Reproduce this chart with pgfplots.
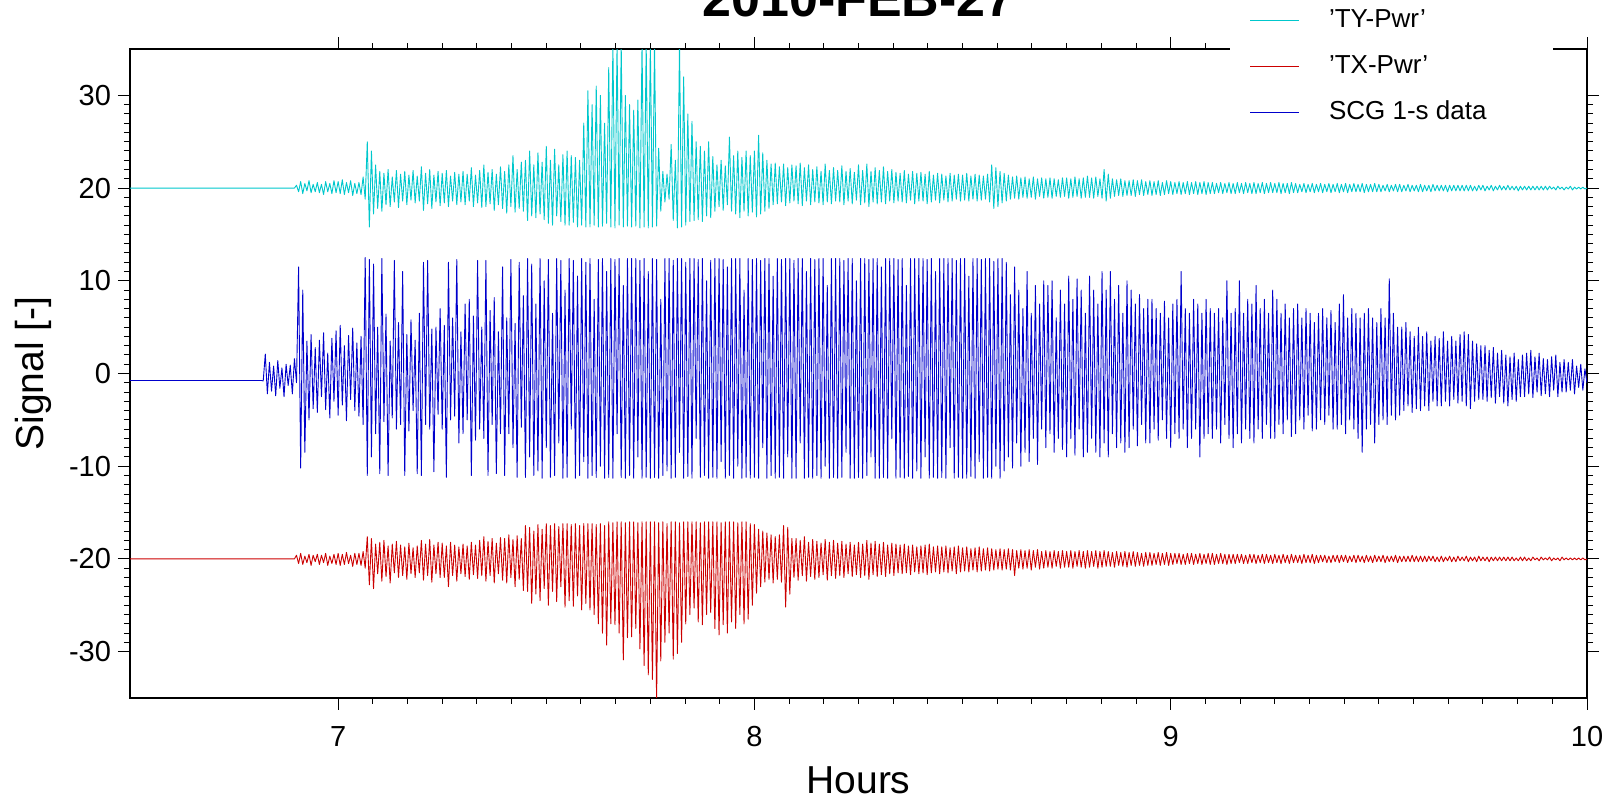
\documentclass[border=0pt]{standalone}
\usepackage{fontspec}
\setmainfont{Liberation Sans}
\usepackage{pgfplots}
\usepackage{pgfplotstable}
\pgfplotsset{compat=1.18}

\definecolor{typwr}{rgb}{0.00,0.78,0.80}
\definecolor{txpwr}{rgb}{0.80,0.00,0.00}
\definecolor{scgblue}{rgb}{0.00,0.00,0.80}

% time in hours, then the three traces (TY power, TX power, SCG 1-s signal)
\pgfplotstableread{
h ty tx scg
6.500 20.0 -20.0 -0.75
6.800 20.0 -20.0 -0.75
6.805 20.0 -20.0 -0.75
6.810 20.0 -20.0 -0.75
6.815 20.0 -20.0 -0.75
6.820 20.0 -20.0 -0.8
6.825 20.0 -20.0 2.1
6.830 20.0 -20.0 -2.2
6.835 20.0 -20.0 1.2
6.840 20.0 -20.0 -1.9
6.845 20.0 -20.0 0.8
6.850 20.0 -20.0 -2.4
6.855 20.0 -20.0 1.4
6.860 20.0 -20.0 -1.6
6.865 20.0 -20.0 0.6
6.870 20.0 -20.0 -2.5
6.875 20.0 -20.0 1.0
6.880 20.0 -20.0 -1.3
6.885 20.0 -20.0 0.9
6.890 20.0 -20.0 -2.2
6.895 20.0 -20.0 1.6
6.900 20.3 -19.6 -1.0
6.905 19.6 -20.5 11.5
6.910 20.7 -19.4 -10.2
6.915 19.4 -20.6 9.0
6.920 20.5 -19.7 -8.5
6.925 19.7 -20.4 3.5
6.930 20.8 -19.5 -5.0
6.935 19.5 -20.7 4.2
6.940 20.4 -19.6 -3.8
6.945 19.6 -20.3 2.8
6.950 20.6 -19.5 -4.2
6.955 19.5 -20.6 3.6
6.960 20.4 -19.6 -2.5
6.965 19.3 -20.4 4.4
6.970 20.7 -19.4 -3.9
6.975 19.6 -20.7 2.2
6.980 20.5 -19.7 -4.8
6.985 19.4 -20.5 3.8
6.990 20.8 -19.5 -3.0
6.995 19.5 -20.6 4.6
7.000 20.7 -19.4 -4.5
7.005 19.4 -20.7 5.2
7.010 20.9 -19.5 -3.4
7.015 19.3 -20.6 3.0
7.020 20.6 -19.3 -5.1
7.025 19.5 -20.5 4.1
7.030 20.8 -19.6 -2.8
7.035 19.2 -20.8 4.9
7.040 20.5 -19.4 -4.0
7.045 19.4 -20.6 3.3
7.050 20.6 -19.4 -4.6
7.055 19.3 -20.7 4.0
7.060 21.2 -19.2 -5.5
7.065 18.8 -21.0 12.5
7.070 25.0 -17.6 -11.0
7.075 15.8 -22.8 12.3
7.080 24.0 -17.8 -9.0
7.085 17.2 -23.2 11.8
7.090 22.5 -18.4 -6.5
7.095 17.8 -21.6 5.0
7.100 21.8 -18.2 -10.8
7.105 17.5 -22.4 12.4
7.110 21.6 -18.0 -5.2
7.115 18.2 -21.9 6.4
7.120 22.0 -18.6 -11.0
7.125 18.0 -22.6 3.5
7.130 21.2 -18.4 -4.8
7.135 18.5 -21.5 12.2
7.140 21.9 -18.1 -6.0
7.145 17.9 -22.0 5.5
7.150 21.5 -18.5 -5.5
7.155 18.6 -21.8 11.0
7.160 21.8 -18.7 -11.0
7.165 18.2 -22.2 4.2
7.170 21.4 -18.3 -6.2
7.175 18.7 -21.6 5.8
7.180 21.9 -18.8 -4.0
7.185 18.4 -22.0 3.6
7.190 21.3 -18.6 -10.8
7.195 18.6 -21.5 6.5
7.200 22.3 -18.0 -11.0
7.205 17.6 -22.3 12.0
7.210 21.6 -18.4 -5.5
7.215 18.3 -21.8 12.2
7.220 22.0 -17.9 -6.0
7.225 17.8 -22.5 4.8
7.230 21.4 -18.5 -10.6
7.235 18.5 -21.6 5.0
7.240 21.8 -18.2 -4.4
7.245 18.1 -22.0 7.0
7.250 21.6 -18.3 -6.0
7.255 18.4 -22.0 5.2
7.260 21.9 -18.6 -11.2
7.265 18.0 -23.0 12.0
7.270 21.3 -18.2 -5.0
7.275 18.6 -21.8 6.0
7.280 21.7 -18.5 -4.6
7.285 18.2 -22.4 12.3
7.290 21.5 -18.7 -7.5
7.295 18.5 -21.6 4.5
7.300 21.8 -18.4 -6.5
7.305 18.2 -21.9 7.5
7.310 21.5 -18.6 -5.0
7.315 18.6 -22.2 8.0
7.320 22.2 -18.2 -11.0
7.325 18.0 -21.7 6.2
7.330 21.4 -18.5 -7.2
7.335 18.4 -22.1 12.2
7.340 21.9 -18.0 -6.0
7.345 17.9 -21.8 5.0
7.350 22.5 -17.6 -7.0
7.355 18.0 -22.4 12.2
7.360 21.7 -18.1 -11.0
7.365 18.3 -21.8 6.8
7.370 22.0 -17.8 -5.5
7.375 17.6 -22.6 8.2
7.380 21.5 -18.3 -10.8
7.385 18.2 -21.6 4.5
7.390 22.3 -17.7 -6.5
7.395 17.8 -22.3 11.5
7.400 21.8 -17.8 -11.0
7.405 17.3 -22.6 6.0
7.410 22.5 -17.4 -6.5
7.415 18.0 -22.0 12.3
7.420 23.5 -17.9 -8.0
7.425 17.4 -23.0 5.4
7.430 22.0 -17.5 -11.2
7.435 17.8 -22.2 12.0
7.440 22.8 -17.8 -5.8
7.445 17.5 -23.4 8.4
7.450 23.0 -16.4 -11.2
7.455 16.5 -23.5 12.4
7.460 24.0 -16.6 -9.0
7.465 17.0 -24.8 11.8
7.470 22.5 -17.0 -11.0
7.475 16.8 -23.8 7.5
7.480 23.8 -16.3 -10.5
7.485 17.2 -24.5 12.4
7.490 22.8 -16.8 -11.3
7.495 16.6 -23.2 10.0
7.500 24.5 -16.2 -8.0
7.505 16.2 -25.0 12.3
7.510 23.0 -16.4 -11.2
7.515 16.0 -23.5 6.5
7.520 24.2 -16.2 -11.0
7.525 17.0 -24.6 12.4
7.530 22.5 -16.5 -7.5
7.535 16.4 -23.0 12.2
7.540 23.6 -16.2 -11.3
7.545 16.0 -25.2 9.0
7.550 24.0 -16.2 -11.2
7.555 16.0 -24.5 12.4
7.560 23.5 -16.3 -6.0
7.565 16.3 -25.1 12.2
7.570 23.3 -16.2 -11.3
7.575 15.8 -24.0 10.5
7.580 23.0 -16.4 -11.0
7.585 16.0 -25.5 12.4
7.590 27.0 -16.2 -9.5
7.595 15.8 -24.8 12.0
7.600 30.5 -16.2 -11.3
7.605 15.8 -25.5 12.4
7.610 29.0 -16.2 -11.0
7.615 16.0 -26.0 8.0
7.620 31.0 -16.3 -11.2
7.625 15.8 -27.0 12.3
7.630 30.0 -16.2 -10.0
7.635 15.9 -28.0 12.4
7.640 27.0 -16.4 -11.3
7.645 16.2 -29.3 11.0
7.650 33.0 -16.0 -11.2
7.655 15.8 -27.0 12.4
7.660 35.5 -16.1 -11.3
7.665 15.7 -27.1 12.3
7.670 35.5 -16.0 -6.5
7.675 16.0 -28.0 12.4
7.680 35.5 -16.0 -11.2
7.685 15.8 -30.9 9.5
7.690 30.0 -16.1 -11.3
7.695 15.9 -28.5 12.4
7.700 29.0 -16.0 -11.0
7.705 15.8 -28.4 12.4
7.710 28.4 -16.0 -11.3
7.715 15.9 -27.5 12.4
7.720 29.5 -16.1 -9.0
7.725 15.7 -29.7 12.2
7.730 35.5 -16.0 -11.3
7.735 15.8 -31.5 12.4
7.740 35.5 -16.0 -11.2
7.745 15.7 -32.5 11.0
7.750 35.5 -16.0 -11.3
7.755 15.8 -33.0 12.4
7.760 35.5 -16.0 -11.2
7.765 15.9 -35.3 12.3
7.770 24.3 -16.1 -11.3
7.775 17.5 -31.0 8.0
7.780 21.8 -16.0 -11.0
7.785 18.5 -29.0 12.4
7.790 21.5 -16.2 -10.5
7.795 18.8 -28.0 12.4
7.800 24.7 -16.0 -11.3
7.805 16.5 -30.8 12.2
7.810 23.0 -16.0 -11.2
7.815 15.7 -30.2 12.4
7.820 35.5 -16.1 -8.5
7.825 15.8 -29.0 12.4
7.830 32.0 -16.0 -11.3
7.835 16.0 -27.0 12.0
7.840 28.0 -16.0 -11.1
7.845 16.4 -26.0 12.4
7.850 27.2 -16.0 -11.3
7.855 16.5 -25.3 12.4
7.860 25.0 -16.0 -7.0
7.865 16.6 -26.8 12.3
7.870 24.5 -16.1 -11.2
7.875 16.4 -27.1 12.4
7.880 24.0 -16.0 -11.0
7.885 17.0 -26.0 10.0
7.890 25.0 -16.0 -11.3
7.895 16.8 -25.8 12.2
7.900 23.4 -16.0 -11.2
7.905 17.5 -27.5 12.4
7.910 22.5 -16.0 -11.3
7.915 18.0 -28.2 12.4
7.920 23.0 -16.1 -9.5
7.925 17.6 -27.1 12.3
7.930 22.4 -16.0 -11.3
7.935 18.2 -28.0 11.5
7.940 25.5 -16.0 -11.0
7.945 17.5 -26.8 12.4
7.950 23.5 -16.0 -11.3
7.955 17.2 -27.5 12.4
7.960 24.0 -16.1 -10.0
7.965 16.8 -26.0 12.4
7.970 23.3 -16.0 -11.3
7.975 17.5 -27.0 9.0
7.980 24.0 -16.0 -11.2
7.985 17.0 -26.5 12.4
7.990 23.5 -16.2 -11.3
7.995 17.4 -25.0 12.3
8.000 24.0 -16.3 -11.2
8.005 16.9 -23.7 12.4
8.010 25.7 -16.8 -11.3
8.015 17.2 -23.0 12.2
8.020 23.8 -17.0 -8.0
8.025 17.5 -22.5 12.4
8.030 23.0 -17.2 -11.3
8.035 17.8 -22.2 12.4
8.040 22.6 -17.4 -11.0
8.045 18.2 -22.6 10.5
8.050 22.7 -17.6 -11.3
8.055 18.3 -22.2 12.4
8.060 22.3 -17.4 -11.2
8.065 18.5 -22.5 12.3
8.070 22.6 -16.4 -11.3
8.075 18.1 -25.2 12.4
8.080 22.2 -16.6 -9.0
8.085 18.4 -23.8 12.4
8.090 22.5 -17.8 -11.3
8.095 18.6 -22.0 12.2
8.100 22.4 -17.8 -11.3
8.105 18.3 -22.3 12.4
8.110 22.7 -18.0 -7.5
8.115 18.1 -21.8 12.4
8.120 22.2 -17.6 -11.3
8.125 18.6 -22.4 11.0
8.130 22.5 -18.2 -11.2
8.135 18.2 -21.9 12.4
8.140 22.0 -17.9 -11.3
8.145 18.5 -22.2 12.3
8.150 22.3 -18.1 -11.0
8.155 18.4 -22.0 12.4
8.160 21.8 -18.3 -11.3
8.165 18.2 -21.7 12.4
8.170 22.6 -17.9 -10.0
8.175 18.5 -22.3 9.5
8.180 21.9 -18.2 -11.3
8.185 18.3 -21.8 12.4
8.190 22.2 -18.0 -11.2
8.195 18.6 -22.1 12.4
8.200 21.9 -18.3 -11.3
8.205 18.5 -21.8 12.4
8.210 22.4 -18.1 -11.2
8.215 18.2 -22.0 12.2
8.220 21.8 -18.4 -8.5
8.225 18.6 -21.6 12.4
8.230 22.1 -18.2 -11.3
8.235 18.3 -21.9 12.4
8.240 21.7 -18.5 -11.3
8.245 18.7 -21.7 10.0
8.250 22.5 -18.2 -11.2
8.255 18.2 -22.0 12.4
8.260 21.9 -18.4 -11.3
8.265 18.4 -21.8 12.4
8.270 22.6 -18.0 -11.0
8.275 18.0 -22.2 12.3
8.280 21.8 -18.3 -9.0
8.285 18.5 -21.7 12.4
8.290 22.2 -18.1 -11.3
8.295 18.3 -21.9 12.4
8.300 21.9 -18.4 -11.3
8.305 18.5 -21.7 11.5
8.310 22.3 -18.2 -11.2
8.315 18.3 -21.9 12.4
8.320 21.8 -18.5 -11.3
8.325 18.6 -21.6 12.4
8.330 22.0 -18.3 -7.0
8.335 18.4 -21.8 12.4
8.340 21.7 -18.4 -11.3
8.345 18.6 -21.5 12.3
8.350 21.6 -18.5 -11.2
8.355 18.5 -21.6 12.4
8.360 21.9 -18.4 -11.3
8.365 18.4 -21.5 9.5
8.370 21.5 -18.6 -11.1
8.375 18.7 -21.7 12.4
8.380 21.8 -18.5 -11.3
8.385 18.3 -21.4 12.4
8.390 21.6 -18.7 -10.5
8.395 18.6 -21.6 12.4
8.400 21.7 -18.6 -11.3
8.405 18.6 -21.5 12.4
8.410 21.5 -18.5 -9.0
8.415 18.3 -21.7 12.3
8.420 21.8 -18.4 -11.3
8.425 18.5 -21.5 12.4
8.430 21.4 -18.7 -11.2
8.435 18.7 -21.4 11.0
8.440 21.6 -18.6 -11.3
8.445 18.4 -21.6 12.4
8.450 21.5 -18.7 -11.2
8.455 18.7 -21.4 12.4
8.460 21.3 -18.6 -11.3
8.465 18.5 -21.5 12.4
8.470 21.6 -18.8 -8.0
8.475 18.6 -21.3 12.4
8.480 21.4 -18.7 -11.3
8.485 18.8 -21.6 12.2
8.490 21.5 -18.6 -11.2
8.495 18.6 -21.4 12.4
8.500 21.4 -18.8 -11.3
8.505 18.7 -21.3 12.4
8.510 21.6 -18.7 -11.3
8.515 18.6 -21.4 10.5
8.520 21.3 -18.9 -11.1
8.525 18.8 -21.2 12.4
8.530 21.5 -18.8 -11.3
8.535 18.6 -21.4 12.4
8.540 21.4 -18.7 -9.5
8.545 18.7 -21.3 12.3
8.550 21.3 -18.9 -11.3
8.555 18.8 -21.2 12.4
8.560 21.5 -18.8 -11.2
8.565 18.5 -21.3 12.4
8.570 22.5 -18.9 -11.3
8.575 17.8 -21.2 12.1
8.580 22.2 -19.0 -10.0
8.585 18.0 -21.1 12.4
8.590 21.8 -18.9 -11.3
8.595 18.4 -21.2 12.4
8.600 21.6 -19.0 -10.5
8.605 18.6 -21.1 12.0
8.610 21.4 -18.9 -9.0
8.615 18.8 -21.2 8.5
8.620 21.2 -19.0 -10.2
8.625 18.9 -21.8 11.5
8.630 21.3 -19.1 -7.5
8.635 18.8 -21.0 9.0
8.640 21.1 -19.0 -10.0
8.645 19.0 -21.1 7.0
8.650 21.2 -19.1 -8.5
8.655 18.9 -21.0 11.0
8.660 21.0 -19.0 -9.5
8.665 19.0 -21.2 6.5
8.670 21.2 -19.1 -7.0
8.675 18.8 -20.9 9.5
8.680 21.0 -19.0 -9.8
8.685 19.1 -21.1 7.5
8.690 21.1 -19.2 -6.0
8.695 18.9 -21.0 10.0
8.700 21.0 -19.1 -8.0
8.705 19.0 -20.9 9.5
8.710 21.1 -19.2 -6.5
8.715 18.9 -21.0 10.0
8.720 21.0 -19.1 -8.5
8.725 19.1 -20.8 6.0
8.730 20.9 -19.2 -7.0
8.735 19.0 -21.0 9.0
8.740 21.1 -19.1 -8.2
8.745 19.1 -20.9 7.5
8.750 21.1 -19.2 -9.0
8.755 18.9 -20.9 10.5
8.760 21.0 -19.1 -7.0
8.765 19.0 -21.0 8.0
8.770 21.2 -19.2 -8.8
8.775 19.1 -20.8 10.2
8.780 21.0 -19.1 -6.0
8.785 18.9 -20.9 9.0
8.790 21.1 -19.2 -9.0
8.795 19.0 -21.0 6.5
8.800 21.3 -19.1 -8.5
8.805 19.0 -20.9 10.5
8.810 21.1 -19.2 -7.0
8.815 18.9 -20.8 9.0
8.820 21.2 -19.1 -8.5
8.825 19.1 -21.0 7.5
8.830 21.0 -19.2 -9.0
8.835 18.9 -20.9 11.0
8.840 22.0 -19.1 -7.5
8.845 18.6 -20.8 9.0
8.850 21.5 -19.2 -9.0
8.855 18.9 -20.8 11.0
8.860 21.0 -19.3 -6.5
8.865 19.1 -20.9 8.0
8.870 20.9 -19.2 -8.0
8.875 19.2 -20.7 9.5
8.880 21.0 -19.3 -7.5
8.885 19.1 -20.8 6.5
8.890 20.8 -19.2 -8.5
8.895 19.2 -20.9 10.0
8.900 20.8 -19.3 -8.0
8.905 19.2 -20.7 9.0
8.910 20.9 -19.2 -6.0
8.915 19.1 -20.8 7.5
8.920 20.8 -19.3 -7.8
8.925 19.3 -20.7 8.5
8.930 20.9 -19.4 -5.5
8.935 19.2 -20.8 7.0
8.940 20.7 -19.3 -7.5
8.945 19.3 -20.7 8.0
8.950 20.8 -19.3 -7.5
8.955 19.2 -20.7 8.0
8.960 20.7 -19.4 -6.0
8.965 19.3 -20.6 7.0
8.970 20.8 -19.3 -7.2
8.975 19.2 -20.7 6.5
8.980 20.6 -19.4 -5.0
8.985 19.3 -20.6 7.8
8.990 20.8 -19.3 -7.0
8.995 19.4 -20.7 6.0
9.000 20.7 -19.4 -8.0
9.005 19.3 -20.6 7.5
9.010 20.6 -19.4 -6.5
9.015 19.4 -20.5 8.0
9.020 20.7 -19.4 -7.0
9.025 19.3 -20.6 11.0
9.030 20.6 -19.5 -6.0
9.035 19.4 -20.6 7.0
9.040 20.7 -19.4 -8.0
9.045 19.3 -20.5 6.5
9.050 20.6 -19.4 -7.0
9.055 19.4 -20.6 8.0
9.060 20.7 -19.5 -6.0
9.065 19.3 -20.5 7.5
9.070 20.6 -19.4 -9.0
9.075 19.4 -20.6 6.5
9.080 20.7 -19.5 -7.0
9.085 19.3 -20.5 8.0
9.090 20.6 -19.4 -6.5
9.095 19.4 -20.6 7.0
9.100 20.6 -19.4 -7.0
9.105 19.4 -20.6 6.5
9.110 20.5 -19.5 -6.0
9.115 19.5 -20.5 7.0
9.120 20.6 -19.4 -7.5
9.125 19.4 -20.5 6.0
9.130 20.5 -19.5 -5.5
9.135 19.5 -20.6 10.0
9.140 20.6 -19.5 -7.0
9.145 19.4 -20.5 6.5
9.150 20.5 -19.5 -8.0
9.155 19.4 -20.5 7.0
9.160 20.6 -19.5 -6.5
9.165 19.5 -20.4 10.0
9.170 20.5 -19.5 -7.5
9.175 19.4 -20.5 6.5
9.180 20.6 -19.6 -6.0
9.185 19.5 -20.5 8.0
9.190 20.5 -19.5 -7.0
9.195 19.4 -20.4 7.5
9.200 20.6 -19.5 -7.5
9.205 19.4 -20.5 9.5
9.210 20.5 -19.6 -6.0
9.215 19.5 -20.4 7.0
9.220 20.6 -19.5 -7.0
9.225 19.4 -20.5 8.0
9.230 20.5 -19.5 -5.5
9.235 19.5 -20.4 6.5
9.240 20.6 -19.6 -7.0
9.245 19.5 -20.5 9.0
9.250 20.5 -19.5 -7.0
9.255 19.5 -20.4 8.0
9.260 20.6 -19.6 -5.5
9.265 19.4 -20.5 6.5
9.270 20.5 -19.5 -6.5
9.275 19.5 -20.4 7.5
9.280 20.5 -19.6 -5.0
9.285 19.4 -20.5 6.0
9.290 20.6 -19.5 -6.8
9.295 19.5 -20.4 7.0
9.300 20.5 -19.6 -6.5
9.305 19.5 -20.4 7.5
9.310 20.4 -19.6 -5.0
9.315 19.6 -20.5 6.0
9.320 20.5 -19.5 -6.0
9.325 19.5 -20.4 7.0
9.330 20.4 -19.6 -4.5
9.335 19.6 -20.4 6.5
9.340 20.5 -19.5 -6.2
9.345 19.5 -20.5 5.5
9.350 20.4 -19.6 -6.0
9.355 19.6 -20.4 6.5
9.360 20.5 -19.6 -5.0
9.365 19.5 -20.3 7.0
9.370 20.4 -19.6 -5.5
9.375 19.6 -20.4 6.0
9.380 20.5 -19.7 -4.5
9.385 19.5 -20.4 6.8
9.390 20.4 -19.6 -6.0
9.395 19.6 -20.3 5.5
9.400 20.5 -19.6 -6.0
9.405 19.5 -20.4 7.5
9.410 20.4 -19.6 -5.5
9.415 19.6 -20.3 8.5
9.420 20.5 -19.6 -6.5
9.425 19.5 -20.4 6.0
9.430 20.4 -19.7 -5.0
9.435 19.6 -20.3 7.0
9.440 20.5 -19.6 -6.0
9.445 19.6 -20.4 6.5
9.450 20.4 -19.6 -7.0
9.455 19.6 -20.3 6.0
9.460 20.5 -19.7 -8.5
9.465 19.5 -20.4 6.5
9.470 20.4 -19.6 -6.0
9.475 19.6 -20.3 7.0
9.480 20.4 -19.7 -5.5
9.485 19.6 -20.4 6.0
9.490 20.5 -19.6 -7.5
9.495 19.6 -20.3 5.5
9.500 20.4 -19.7 -5.5
9.505 19.6 -20.3 7.0
9.510 20.3 -19.6 -5.0
9.515 19.7 -20.4 6.0
9.520 20.4 -19.7 -5.5
9.525 19.6 -20.3 10.2
9.530 20.3 -19.7 -4.5
9.535 19.7 -20.3 6.5
9.540 20.4 -19.6 -5.0
9.545 19.6 -20.4 5.0
9.550 20.4 -19.7 -4.5
9.555 19.6 -20.3 5.0
9.560 20.3 -19.7 -4.0
9.565 19.7 -20.3 5.5
9.570 20.4 -19.7 -3.5
9.575 19.6 -20.3 4.5
9.580 20.3 -19.6 -4.2
9.585 19.7 -20.3 4.0
9.590 20.3 -19.7 -3.8
9.595 19.6 -20.3 5.0
9.600 20.4 -19.7 -4.0
9.605 19.6 -20.3 4.0
9.610 20.3 -19.7 -3.5
9.615 19.7 -20.3 4.5
9.620 20.3 -19.7 -4.0
9.625 19.6 -20.2 3.5
9.630 20.4 -19.7 -3.0
9.635 19.7 -20.3 4.0
9.640 20.3 -19.8 -3.5
9.645 19.7 -20.3 3.8
9.650 20.3 -19.7 -3.5
9.655 19.7 -20.3 4.5
9.660 20.3 -19.8 -3.0
9.665 19.6 -20.2 3.5
9.670 20.3 -19.7 -3.5
9.675 19.7 -20.3 4.0
9.680 20.3 -19.8 -2.8
9.685 19.7 -20.3 3.5
9.690 20.3 -19.7 -3.2
9.695 19.7 -20.2 4.2
9.700 20.3 -19.8 -3.0
9.705 19.7 -20.2 4.5
9.710 20.3 -19.7 -3.5
9.715 19.7 -20.3 4.2
9.720 20.3 -19.8 -3.8
9.725 19.7 -20.2 3.5
9.730 20.2 -19.8 -3.0
9.735 19.7 -20.3 3.2
9.740 20.3 -19.7 -2.8
9.745 19.8 -20.2 3.0
9.750 20.3 -19.8 -2.8
9.755 19.7 -20.2 3.0
9.760 20.2 -19.8 -3.0
9.765 19.8 -20.3 2.5
9.770 20.3 -19.8 -2.6
9.775 19.7 -20.2 2.8
9.780 20.2 -19.8 -3.2
9.785 19.8 -20.2 2.2
9.790 20.3 -19.8 -2.5
9.795 19.8 -20.2 2.5
9.800 20.2 -19.8 -3.2
9.805 19.8 -20.2 2.0
9.810 20.3 -19.8 -3.5
9.815 19.8 -20.2 1.8
9.820 20.2 -19.8 -2.8
9.825 19.8 -20.2 2.2
9.830 20.2 -19.9 -3.0
9.835 19.7 -20.2 1.5
9.840 20.2 -19.8 -2.5
9.845 19.8 -20.2 2.0
9.850 20.2 -19.8 -2.5
9.855 19.8 -20.2 2.2
9.860 20.2 -19.9 -2.2
9.865 19.8 -20.2 2.5
9.870 20.2 -19.8 -2.6
9.875 19.8 -20.1 1.8
9.880 20.2 -19.9 -2.0
9.885 19.8 -20.2 2.2
9.890 20.2 -19.8 -2.4
9.895 19.8 -20.1 1.6
9.900 20.2 -19.9 -2.2
9.905 19.8 -20.1 1.5
9.910 20.2 -19.8 -2.5
9.915 19.9 -20.2 1.8
9.920 20.1 -19.9 -1.8
9.925 19.8 -20.1 2.0
9.930 20.2 -19.9 -2.5
9.935 19.9 -20.2 1.2
9.940 20.1 -19.8 -2.0
9.945 19.8 -20.1 1.5
9.950 20.1 -19.9 -2.0
9.955 19.9 -20.1 1.2
9.960 20.2 -19.9 -1.8
9.965 19.8 -20.1 1.5
9.970 20.1 -19.9 -2.2
9.975 19.9 -20.1 0.8
9.980 20.1 -19.9 -1.5
9.985 19.9 -20.1 1.0
9.990 20.1 -19.9 -1.8
9.995 19.9 -20.1 0.5
10.000 20.0 -20.0 -1.0
}\quaketable

\begin{document}
\begin{tikzpicture}
\useasboundingbox (-65pt,-52pt) rectangle (744pt,349pt);
\clip (-65pt,-52pt) rectangle (744pt,349pt);
\begin{axis}[
  scale only axis,
  width=728.5pt, height=324.5pt,
  xmin=6.5, xmax=10, ymin=-35, ymax=35,
  xtick={7,8,9,10}, xticklabels={7,8,9,10},
  ytick={-30,-20,-10,0,10,20,30},
  yticklabels={-30,-20,-10,0,10,20,30},
  minor x tick num=11, minor y tick num=9,
  tick align=outside,
  major tick length=6pt, minor tick length=3pt,
  every tick/.style={black, line width=0.5pt},
  axis line style={line width=1.2pt},
  tick label style={font=\fontsize{14.5}{17}\selectfont},
  xticklabel style={yshift=-4.5pt},
  xlabel={Hours}, ylabel={Signal [-]},
  label style={font=\fontsize{19.5}{23}\selectfont},
  xlabel style={at={(axis description cs:0.5,-0.1464)}, anchor=base},
  ylabel style={at={(axis description cs:-0.0597,0.5)}, anchor=base},
  title={2010-FEB-27},
  title style={at={(axis description cs:0.5,1)}, anchor=base, yshift=10.3pt,
    font=\bfseries\fontsize{26}{30}\selectfont},
  legend cell align=left,
  legend image code/.code={\draw[#1, line width=0.8pt] (0pt,0pt) -- (24.5pt,0pt);},
  legend style={at={(axis description cs:0.755,1.094)}, anchor=north west,
    draw=none, fill=white, inner xsep=9.5pt, inner ysep=10pt,
    row sep=11pt, column sep=14.5pt,
    font=\fontsize{13}{15}\selectfont,
    nodes={inner sep=0pt, text height=9.5pt, text depth=2.5pt}},
]
\addplot[typwr, line width=0.45pt, line join=round] table[x=h, y=ty] {\quaketable};
\addlegendentry{\makebox[102.5pt][l]{'TY-Pwr'}}
\addplot[txpwr, line width=0.45pt, line join=round] table[x=h, y=tx] {\quaketable};
\addlegendentry{\makebox[102.5pt][l]{'TX-Pwr'}}
\addplot[scgblue, line width=0.45pt, line join=round] table[x=h, y=scg] {\quaketable};
\addlegendentry{\makebox[102.5pt][l]{SCG 1-s data}}
\end{axis}
\end{tikzpicture}
\end{document}
